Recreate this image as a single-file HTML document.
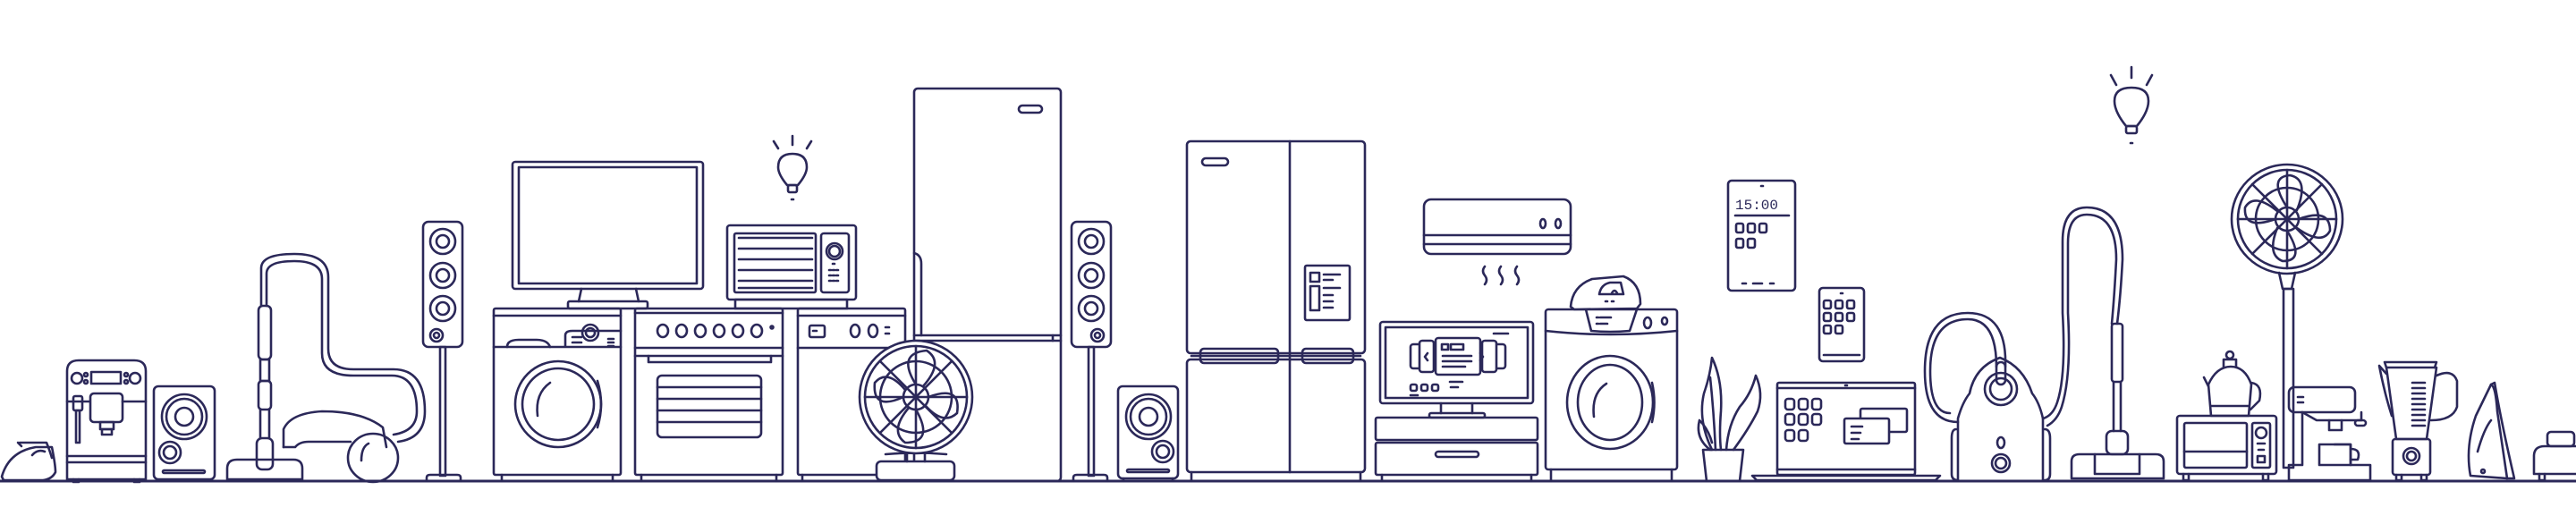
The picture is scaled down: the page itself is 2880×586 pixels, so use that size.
<!DOCTYPE html>
<html><head><meta charset="utf-8"><style>
html,body{margin:0;padding:0;background:#fff;}
svg{display:block}
text{font-family:"Liberation Mono",monospace;fill:#2b2859}
</style></head><body>
<svg width="2880" height="586" viewBox="0 0 2880 586" xmlns="http://www.w3.org/2000/svg">
<g fill="none" stroke="#2b2859" stroke-width="2.6" stroke-linejoin="round" stroke-linecap="round">
<!-- ground -->
<line x1="0" y1="538" x2="2880" y2="538" stroke-width="3"/>

<!-- small iron left -->
<path d="M2 533 Q10 505 40 500 L58 500 Q62 520 62 528 Q58 536 48 537 L4 537 Z"/>
<path d="M22 495 L52 495 Q56 505 58 512"/>
<path d="M20 495 L24 499"/>
<path d="M36 509 Q42 502 50 505"/>

<!-- coffee machine -->
<path d="M75 536 V415 Q75 403 88 403 H150 Q163 403 163 415 V536 Z"/>
<circle cx="86" cy="423" r="6"/><circle cx="151" cy="423" r="6"/>
<circle cx="96" cy="419" r="2"/><circle cx="96" cy="427" r="2"/><circle cx="141" cy="419" r="2"/><circle cx="141" cy="427" r="2"/>
<rect x="102" y="416" width="33" height="13"/>
<line x1="75" y1="449" x2="100" y2="449"/><line x1="137" y1="449" x2="163" y2="449"/>
<rect x="101" y="440" width="36" height="32" rx="4"/>
<rect x="112" y="472" width="15" height="8"/><rect x="114" y="480" width="11" height="6"/>
<rect x="82" y="443" width="10" height="16" rx="2"/><rect x="85" y="459" width="4" height="36"/>
<line x1="75" y1="510" x2="163" y2="510"/><line x1="75" y1="517" x2="163" y2="517"/>
<path d="M82 536 v3 h6 v-3 M150 536 v3 h6 v-3"/>

<!-- small speaker 1 -->
<rect x="172" y="432" width="68" height="104" rx="5"/>
<circle cx="206" cy="466" r="25"/><circle cx="206" cy="466" r="20"/><circle cx="206" cy="466" r="10"/>
<circle cx="190" cy="506" r="12"/><circle cx="190" cy="506" r="7"/>
<rect x="182" y="526" width="47" height="3" rx="1.5"/>

<!-- canister vacuum left -->
<rect x="289" y="342" width="14" height="60" rx="5"/>
<rect x="291" y="402" width="10" height="24"/>
<rect x="289" y="426" width="14" height="32" rx="4"/>
<line x1="291" y1="458" x2="291" y2="490"/><line x1="301" y1="458" x2="301" y2="490"/>
<rect x="287" y="490" width="18" height="35" rx="6"/>
<path d="M254 536 V524 Q254 514 265 514 H328 Q338 514 338 524 V536 Z"/>
<path d="M292 342 V300 Q292 284 329 284 Q367 284 367 310 V390 Q367 413 395 413 H440 Q475 413 475 460 Q475 490 445 494"/>
<path d="M298 342 V306 Q298 292 329 292 Q360 292 360 312 V395 Q360 420 395 420 H438 Q466 420 466 460 Q466 482 440 486"/>
<path d="M317 500 V480 Q325 462 360 460 Q405 460 428 478 L432 500"/>
<path d="M317 500 H330 Q335 494 345 494 H392"/>
<ellipse cx="417" cy="512" rx="28" ry="27"/>
<path d="M404 515 Q404 500 412 496"/>

<!-- floor speaker 1 -->
<rect x="473" y="248" width="44" height="140" rx="6"/>
<circle cx="495" cy="270" r="14"/><circle cx="495" cy="270" r="7"/>
<circle cx="495" cy="308" r="14"/><circle cx="495" cy="308" r="7"/>
<circle cx="495" cy="345" r="14"/><circle cx="495" cy="345" r="7"/>
<circle cx="488" cy="375" r="7"/><circle cx="488" cy="375" r="3"/>
<rect x="492" y="388" width="6" height="144"/>
<path d="M477 538 V534 Q477 531 481 531 H511 Q515 531 515 534 V538"/>

<!-- TV -->
<rect x="573" y="181" width="213" height="142" rx="3"/>
<rect x="580" y="187" width="199" height="130"/>
<path d="M650 323 L647 337 M711 323 L714 337"/>
<rect x="635" y="337" width="89" height="8" rx="2"/>

<!-- bulb 1 -->
<line x1="886" y1="152" x2="886" y2="162"/><line x1="865" y1="158" x2="870" y2="166"/><line x1="907" y1="158" x2="902" y2="166"/>
<path d="M880 207 Q870 195 870 187 Q870 172 886 172 Q902 172 902 187 Q902 195 892 207 Z"/>
<rect x="881" y="207" width="10" height="8" rx="2"/>
<line x1="885" y1="223" x2="887" y2="223"/>

<!-- washing machine 1 -->
<rect x="552" y="345" width="142" height="186" rx="2"/>
<line x1="552" y1="353" x2="694" y2="353"/><line x1="552" y1="388" x2="694" y2="388"/>
<path d="M567 388 Q567 380 580 380 H600 Q612 380 615 388"/>
<path d="M632 387 V375 Q632 370 640 370 H694"/>
<circle cx="660" cy="372" r="9"/><circle cx="660" cy="372" r="5"/>
<line x1="640" y1="377" x2="650" y2="377"/><line x1="640" y1="383" x2="650" y2="383"/>
<path d="M680 379 h6 M680 383 h6 M680 387 h6"/>
<circle cx="624" cy="452" r="48"/><circle cx="624" cy="452" r="40"/>
<path d="M601 465 Q598 440 615 428"/>
<path d="M668 426 Q676 452 668 478"/>
<path d="M561 531 V538 M685 531 V538"/>

<!-- stove -->
<rect x="710" y="345" width="165" height="186" rx="2"/>
<line x1="710" y1="350" x2="875" y2="350"/>
<line x1="710" y1="389" x2="875" y2="389"/><line x1="710" y1="398" x2="875" y2="398"/>
<path d="M725 398 V405 H862 V398"/>
<ellipse cx="741" cy="370" rx="6" ry="7"/><ellipse cx="762" cy="370" rx="6" ry="7"/><ellipse cx="783" cy="370" rx="6" ry="7"/><ellipse cx="804" cy="370" rx="6" ry="7"/><ellipse cx="825" cy="370" rx="6" ry="7"/><ellipse cx="846" cy="370" rx="6" ry="7"/>
<circle cx="863" cy="366" r="1.5"/>
<rect x="735" y="420" width="116" height="69" rx="5"/>
<path d="M735 433 H851 M735 446 H851 M735 459 H851 M735 472 H851"/>
<path d="M717 531 V538 M868 531 V538"/>

<!-- microwave -->
<rect x="813" y="252" width="144" height="83" rx="3"/>
<rect x="821" y="261" width="91" height="66" rx="2"/>
<path d="M826 266 H908 M826 278 H908 M826 290 H908 M826 302 H908 M826 314 H908 M826 322 H908"/>
<rect x="918" y="261" width="31" height="66" rx="3"/>
<circle cx="933" cy="281" r="9"/><circle cx="933" cy="281" r="6"/>
<path d="M931 295 h2 M927 302 h2 M931 302 h2 M935 302 h2 M927 308 h2 M931 308 h2 M935 308 h2 M927 314 h2 M931 314 h2 M935 314 h2"/>
<rect x="822" y="335" width="125" height="10"/>

<!-- dishwasher -->
<rect x="892" y="345" width="120" height="186" rx="2"/>
<line x1="892" y1="353" x2="1012" y2="353"/><line x1="892" y1="389" x2="1012" y2="389"/>
<rect x="905" y="364" width="17" height="13" rx="2"/><line x1="909" y1="370" x2="913" y2="370"/>
<ellipse cx="956" cy="370" rx="5" ry="7"/><ellipse cx="976" cy="370" rx="5" ry="7"/>
<path d="M990 366 h4 M990 373 h4"/>
<path d="M897 531 V538"/>

<!-- tall fridge -->
<rect x="1022" y="99" width="164" height="439" rx="4"/>
<line x1="1022" y1="375" x2="1186" y2="375"/><line x1="1022" y1="381" x2="1186" y2="381"/>
<rect x="1139" y="118" width="26" height="8" rx="4"/>
<path d="M1022 283 Q1030 285 1030 295 V375"/>
<line x1="1177" y1="381" x2="1177" y2="375"/>

<!-- table fan -->
<rect x="980" y="516" width="87" height="21" rx="5" fill="#fff"/>
<path d="M990 508 Q1024 505 1058 508" />
<path d="M1014 498 V516 M1034 498 V516"/>
<circle cx="1024" cy="444" r="63" fill="#fff"/>
<circle cx="1024" cy="444" r="57"/>
<circle cx="1024" cy="444" r="40"/>
<circle cx="1024" cy="444" r="14"/>
<path d="M1024 387 V501 M967 444 H1081 M984 404 L1064 484 M1064 404 L984 484"/>
<path d="M1024 430 Q1002 395 1036 392 Q1056 405 1032 432 M1038 444 Q1075 430 1070 462 Q1055 476 1035 454 M1024 458 Q1045 495 1012 495 Q994 482 1016 456 M1010 444 Q975 460 978 428 Q992 412 1012 436"/>

<!-- floor speaker 2 -->
<rect x="1198" y="248" width="44" height="140" rx="6"/>
<circle cx="1220" cy="270" r="14"/><circle cx="1220" cy="270" r="7"/>
<circle cx="1220" cy="308" r="14"/><circle cx="1220" cy="308" r="7"/>
<circle cx="1220" cy="345" r="14"/><circle cx="1220" cy="345" r="7"/>
<circle cx="1227" cy="375" r="7"/><circle cx="1227" cy="375" r="3"/>
<rect x="1217" y="388" width="6" height="144"/>
<path d="M1200 538 V534 Q1200 531 1204 531 H1234 Q1238 531 1238 534 V538"/>

<!-- small speaker 2 -->
<rect x="1250" y="432" width="67" height="103" rx="5"/>
<circle cx="1284" cy="466" r="25"/><circle cx="1284" cy="466" r="20"/><circle cx="1284" cy="466" r="10"/>
<circle cx="1300" cy="505" r="12"/><circle cx="1300" cy="505" r="7"/>
<rect x="1260" y="525" width="47" height="3" rx="1.5"/>
<path d="M1256 535 V538 M1311 535 V538"/>

<!-- french door fridge -->
<rect x="1327" y="158" width="199" height="237" rx="4"/>
<rect x="1327" y="402" width="199" height="126" rx="4"/>
<line x1="1442" y1="158" x2="1442" y2="528"/>
<line x1="1332" y1="398" x2="1521" y2="398"/>
<rect x="1342" y="390" width="87" height="16" rx="4"/>
<rect x="1456" y="390" width="57" height="16" rx="4"/>
<rect x="1344" y="177" width="29" height="8" rx="4"/>
<rect x="1459" y="297" width="50" height="61" rx="2"/>
<rect x="1465" y="305" width="10" height="10"/><rect x="1465" y="320" width="10" height="27"/>
<path d="M1480 307 h18 M1480 313 h10 M1480 322 h18 M1480 330 h10 M1480 337 h10 M1480 344 h10"/>
<path d="M1332 528 V538 M1521 528 V538"/>

<!-- AC -->
<rect x="1592" y="223" width="164" height="61" rx="8"/>
<line x1="1592" y1="263" x2="1756" y2="263"/><line x1="1592" y1="273" x2="1756" y2="273"/>
<ellipse cx="1725" cy="250" rx="3" ry="5"/><ellipse cx="1742" cy="250" rx="3" ry="5"/>
<path d="M1660 298 q-4 5 0 10 q4 5 0 10 M1678 298 q-4 5 0 10 q4 5 0 10 M1696 298 q-4 5 0 10 q4 5 0 10"/>

<!-- monitor -->
<rect x="1543" y="360" width="171" height="91" rx="3"/>
<rect x="1549" y="366" width="159" height="79"/>
<line x1="1670" y1="373" x2="1686" y2="373"/>
<rect x="1577" y="385" width="14" height="27" rx="3"/><rect x="1669" y="385" width="14" height="27" rx="3"/>
<rect x="1587" y="381" width="16" height="35" rx="3" fill="#fff"/><rect x="1657" y="381" width="16" height="35" rx="3" fill="#fff"/>
<rect x="1605" y="378" width="50" height="41" rx="3" fill="#fff"/>
<path d="M1596 395 l-3 4 l3 4 M1655 395 l3 4 l-3 4"/>
<rect x="1612" y="385" width="7" height="6"/><rect x="1622" y="385" width="14" height="6"/>
<path d="M1613 398 H1645 M1613 404 H1645 M1613 410 H1638"/>
<rect x="1577" y="430" width="7" height="7" rx="2"/><rect x="1589" y="430" width="7" height="7" rx="2"/><rect x="1601" y="430" width="7" height="7" rx="2"/>
<path d="M1621 427 h14 M1622 433 h8 M1577 442 h8"/>
<path d="M1611 451 V462 M1646 451 V462"/>
<rect x="1598" y="462" width="62" height="5" rx="2"/>
<rect x="1538" y="467" width="181" height="25" rx="2"/>
<rect x="1538" y="495" width="181" height="36" rx="2"/>
<rect x="1605" y="505" width="48" height="6" rx="3"/>
<path d="M1545 531 V538 M1712 531 V538"/>

<!-- washer 2 + iron -->
<rect x="1728" y="346" width="147" height="179" rx="3"/>
<path d="M1728 370 Q1800 378 1875 370"/>
<path d="M1773 346 L1779 370 Q1800 372 1822 370 L1830 346"/>
<path d="M1789 355 h12 M1785 355 h2 M1789 362 h8 M1785 362 h2"/>
<ellipse cx="1842" cy="361" rx="4" ry="6"/><ellipse cx="1861" cy="359" rx="3" ry="4"/>
<ellipse cx="1800" cy="450" rx="48" ry="52"/><ellipse cx="1800" cy="450" rx="36" ry="42"/>
<path d="M1782 466 Q1779 440 1796 429"/>
<path d="M1847 428 Q1852 450 1847 472"/>
<path d="M1734 525 V538 M1869 525 V538"/>
<path d="M1756 343 Q1758 320 1780 312 L1815 309 Q1834 316 1834 340 L1830 345 L1760 346 Z" fill="#fff"/>
<path d="M1788 329 Q1790 318 1800 316 H1812 L1815 329 Z"/>
<path d="M1802 328 q3 -6 6 0"/>
<path d="M1795 337 h2 M1802 337 h2"/>

<!-- plant -->
<path d="M1904 503 H1949 L1945 538 H1908 Z"/>
<path d="M1914 503 Q1898 470 1905 440 Q1912 420 1914 400 Q1926 425 1924 460 Q1922 485 1924 503"/>
<path d="M1912 422 Q1916 460 1918 503"/>
<path d="M1930 503 Q1932 475 1945 455 Q1958 440 1963 420 Q1972 440 1965 460 Q1955 480 1938 503"/>
<path d="M1912 503 Q1895 490 1900 470 Q1910 480 1914 495"/>

<!-- tablet -->
<rect x="1932" y="202" width="75" height="123" rx="4"/>
<line x1="1969" y1="208" x2="1971" y2="208"/>
<text x="1940" y="234" font-size="16" stroke="none">15:00</text>
<line x1="1940" y1="241" x2="2000" y2="241"/>
<rect x="1941" y="250" width="8" height="10" rx="2"/><rect x="1954" y="250" width="8" height="10" rx="2"/><rect x="1967" y="250" width="8" height="10" rx="2"/>
<rect x="1941" y="267" width="8" height="10" rx="2"/><rect x="1954" y="267" width="8" height="10" rx="2"/>
<path d="M1948 317 h4 M1960 317 h10 M1979 317 h4"/>

<!-- phone -->
<rect x="2034" y="322" width="50" height="82" rx="4"/>
<line x1="2058" y1="328" x2="2060" y2="328"/>
<rect x="2039" y="336" width="8" height="9" rx="2"/><rect x="2052" y="336" width="8" height="9" rx="2"/><rect x="2065" y="336" width="8" height="9" rx="2"/>
<rect x="2039" y="350" width="8" height="9" rx="2"/><rect x="2052" y="350" width="8" height="9" rx="2"/><rect x="2065" y="350" width="8" height="9" rx="2"/>
<rect x="2039" y="364" width="8" height="9" rx="2"/><rect x="2052" y="364" width="8" height="9" rx="2"/>
<line x1="2039" y1="397" x2="2079" y2="397"/>

<!-- laptop -->
<rect x="1987" y="428" width="154" height="103" rx="2"/>
<line x1="1987" y1="434" x2="2141" y2="434"/><line x1="1987" y1="525" x2="2141" y2="525"/>
<line x1="2063" y1="431" x2="2065" y2="431"/>
<rect x="1996" y="446" width="10" height="12" rx="3"/><rect x="2011" y="446" width="10" height="12" rx="3"/><rect x="2026" y="446" width="10" height="12" rx="3"/>
<rect x="1996" y="463" width="10" height="12" rx="3"/><rect x="2011" y="463" width="10" height="12" rx="3"/><rect x="2026" y="463" width="10" height="12" rx="3"/>
<rect x="1996" y="481" width="10" height="12" rx="3"/><rect x="2011" y="481" width="10" height="12" rx="3"/>
<rect x="2080" y="457" width="52" height="26" rx="2"/>
<rect x="2062" y="468" width="50" height="28" rx="2" fill="#fff"/>
<path d="M2070 477 h12 M2070 484 h10 M2070 491 h8"/>
<path d="M1959 532 H2169 L2164 537 H1964 Z"/>

<!-- canister vacuum right -->
<path d="M2189 537 V468 Q2194 450 2202 440 Q2208 410 2236 400 Q2262 410 2272 440 Q2280 450 2284 468 V537"/>
<path d="M2187 480 Q2182 480 2182 490 V530 Q2182 537 2189 537 M2286 480 Q2292 480 2292 490 V530 Q2292 537 2286 537"/>
<circle cx="2237" cy="435" r="18"/><circle cx="2237" cy="435" r="12"/>
<ellipse cx="2237" cy="495" rx="4" ry="6"/>
<circle cx="2237" cy="518" r="10"/><circle cx="2237" cy="518" r="6"/>
<rect x="2232" y="405" width="10" height="25" rx="5"/>
<path d="M2232 410 Q2232 357 2200 357 Q2158 357 2158 415 Q2158 462 2180 462"/>
<path d="M2242 410 Q2244 350 2200 350 Q2152 350 2152 415 Q2152 472 2189 472"/>

<!-- upright vacuum -->
<path d="M2284 468 Q2295 465 2300 450 Q2310 420 2306 350 V270 Q2306 232 2333 232 Q2373 232 2373 290 Q2371 330 2367 362"/>
<path d="M2289 476 Q2300 470 2305 455 Q2316 420 2312 350 V272 Q2312 240 2333 240 Q2366 240 2366 290 Q2364 330 2361 362"/>
<rect x="2361" y="362" width="12" height="65" rx="3"/>
<path d="M2363 427 V482 M2371 427 V482"/>
<rect x="2355" y="482" width="24" height="26" rx="6"/>
<path d="M2316 535 V516 Q2316 508 2325 508 H2410 Q2419 508 2419 516 V535 Z"/>
<path d="M2342 508 V530 H2392 V508"/>

<!-- bulb 2 -->
<line x1="2383" y1="75" x2="2383" y2="87"/><line x1="2360" y1="84" x2="2366" y2="95"/><line x1="2406" y1="84" x2="2400" y2="95"/>
<path d="M2377 141 Q2364 125 2364 113 Q2364 98 2383 98 Q2402 98 2402 113 Q2402 125 2389 141 Z"/>
<rect x="2377" y="141" width="12" height="8" rx="2"/>
<line x1="2382" y1="160" x2="2384" y2="160"/>

<!-- standing fan -->
<ellipse cx="2557" cy="245" rx="62" ry="61"/>
<ellipse cx="2557" cy="245" rx="55" ry="55"/>
<circle cx="2557" cy="245" r="35"/>
<circle cx="2557" cy="245" r="13"/>
<path d="M2557 190 V300 M2502 245 H2612 M2518 206 L2596 284 M2596 206 L2518 284"/>
<path d="M2557 232 Q2535 198 2560 196 Q2582 200 2568 235 M2570 245 Q2605 232 2605 258 Q2596 275 2568 255 M2557 258 Q2578 292 2552 292 Q2534 285 2546 255 M2544 245 Q2508 258 2510 232 Q2520 215 2546 236"/>
<path d="M2548 305 L2552 323 H2562 L2566 305"/>
<rect x="2553" y="323" width="11" height="200"/>

<!-- toaster oven + kettle -->
<rect x="2434" y="465" width="111" height="65" rx="3"/>
<rect x="2442" y="473" width="70" height="50" rx="2"/>
<line x1="2442" y1="505" x2="2512" y2="505"/>
<rect x="2518" y="473" width="20" height="50" rx="2"/>
<circle cx="2528" cy="484" r="6"/>
<path d="M2524 496 h8 M2525 503 h6"/><rect x="2524" y="510" width="8" height="7"/>
<path d="M2441 530 V537 H2447 V530 M2530 530 V537 H2536 V530"/>
<path d="M2472 465 L2469 430 Q2478 410 2494 410 Q2510 410 2517 430 L2514 465 Z"/>
<path d="M2469 432 L2464 422 M2517 428 Q2530 430 2526 448 L2516 458"/>
<path d="M2486 410 V402 H2500 V410"/><circle cx="2493" cy="397" r="4"/>
<line x1="2472" y1="454" x2="2514" y2="454"/>

<!-- coffee maker -->
<rect x="2559" y="433" width="74" height="28" rx="6"/>
<path d="M2569 444 h6 M2569 450 h6"/>
<path d="M2574 461 V520 H2559 V537 H2650 V520 H2628 V497 L2610 497"/>
<path d="M2574 461 L2590 470 H2640 V461"/>
<path d="M2604 470 V481 H2618 V470"/><rect x="2633" y="470" width="12" height="6" rx="3"/>
<path d="M2593 497 V520 H2628 V497 Z"/>
<path d="M2628 502 Q2640 502 2636 514 L2628 514"/>

<!-- blender -->
<path d="M2668 411 L2666 405 H2724 L2722 411"/>
<path d="M2668 411 L2679 491 H2713 L2724 411 Z"/>
<path d="M2668 418 L2660 409 Q2666 440 2674 465"/>
<path d="M2724 420 Q2742 412 2747 426 V455 Q2742 470 2718 470"/>
<path d="M2697 428 h14 M2697 434 h14 M2697 440 h14 M2697 446 h14 M2697 452 h14 M2697 458 h14 M2697 464 h14 M2697 470 h14 M2697 476 h14"/>
<rect x="2675" y="491" width="42" height="40" rx="3"/>
<circle cx="2696" cy="510" r="9"/><circle cx="2696" cy="510" r="5"/>
<path d="M2679 531 V537 H2685 V531 M2707 531 V537 H2713 V531"/>

<!-- standing iron -->
<path d="M2762 532 Q2756 500 2768 465 L2785 430 Q2790 432 2792 460 L2803 535 Z"/>
<path d="M2785 430 L2789 428 Q2796 470 2811 535 L2803 535"/>
<path d="M2770 505 Q2777 480 2785 470"/>
<circle cx="2776" cy="527" r="2"/>

<!-- right toaster -->
<rect x="2848" y="483" width="30" height="16" rx="4"/>
<path d="M2833 530 V510 Q2833 499 2845 499 H2880 M2833 530 H2880"/>
<path d="M2839 530 V537 H2845 V530"/>
</g>
</svg>
</body></html>
